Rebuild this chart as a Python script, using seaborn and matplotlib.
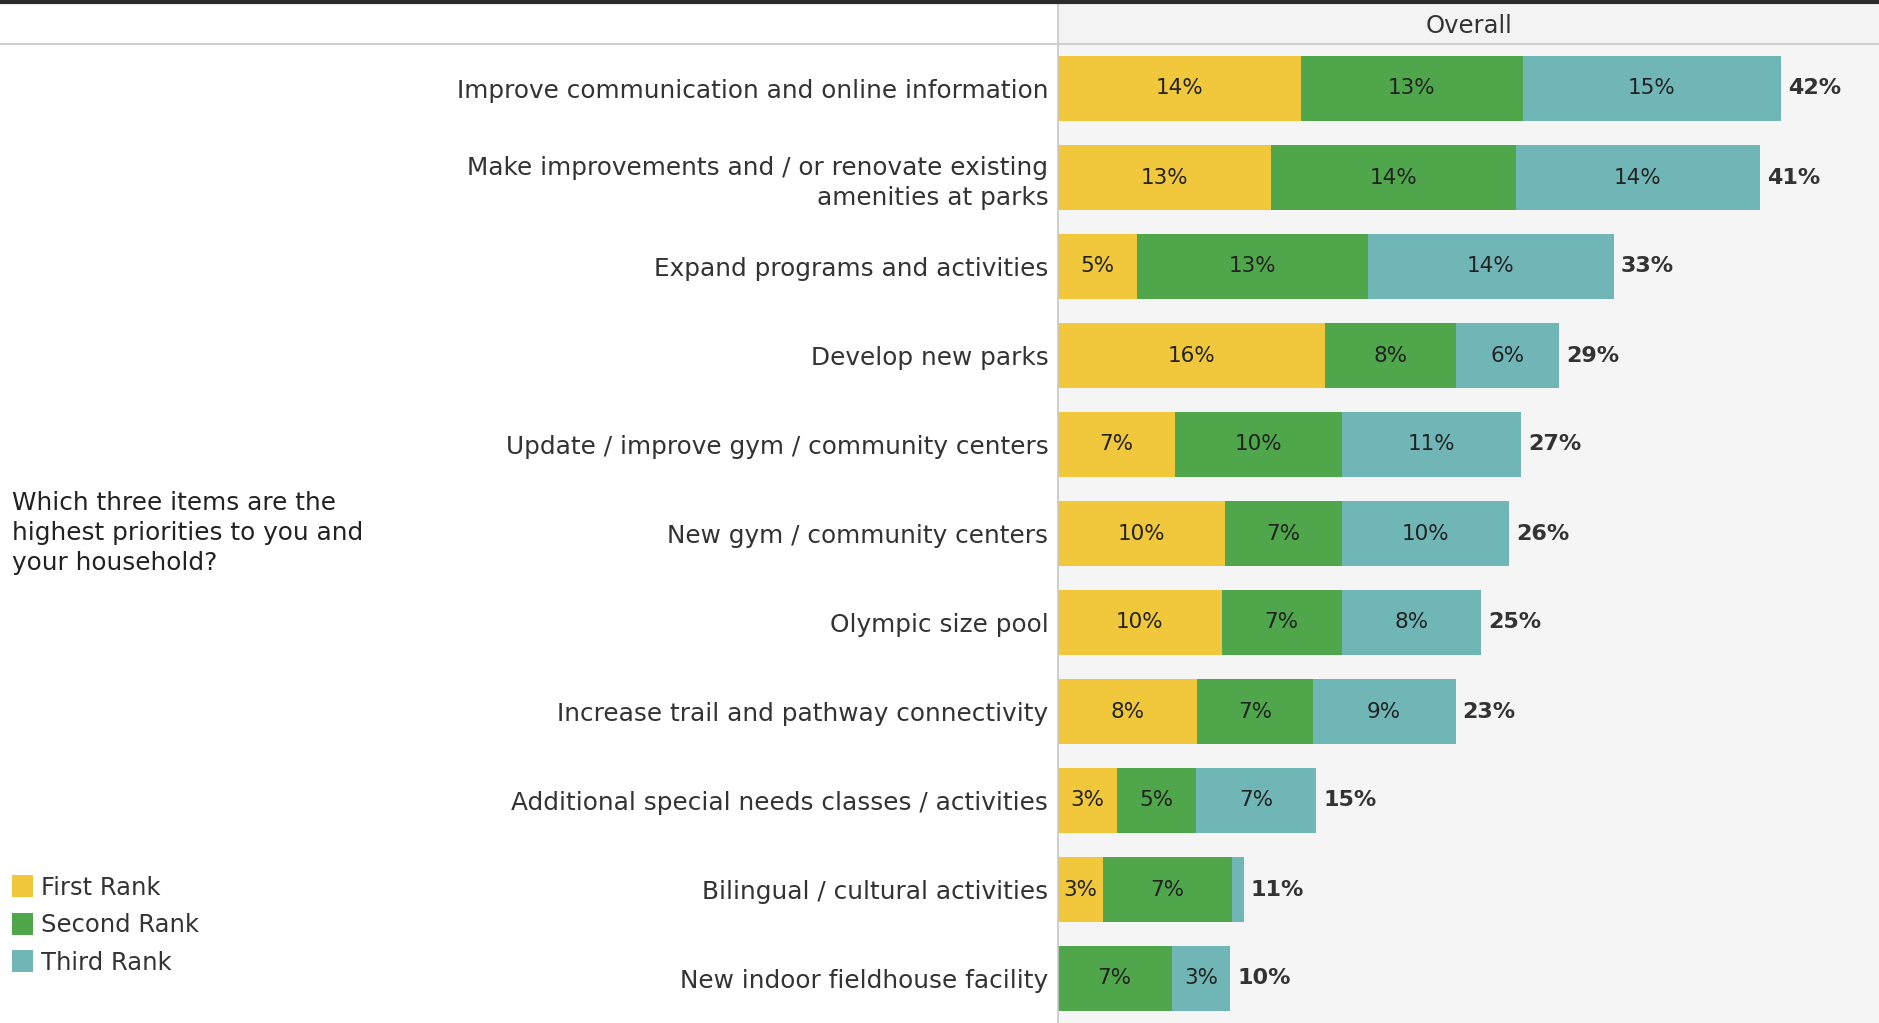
import matplotlib
matplotlib.use("Agg")
import matplotlib.pyplot as plt
from matplotlib.patches import Patch, Rectangle
from matplotlib.lines import Line2D
import numpy as np
import pandas as pd
import seaborn as sns

# ------------------------------------------------------------------
# Data
# ------------------------------------------------------------------
items = [
    "Improve communication and online information",
    "Make improvements and / or renovate existing\namenities at parks",
    "Expand programs and activities",
    "Develop new parks",
    "Update / improve gym / community centers",
    "New gym / community centers",
    "Olympic size pool",
    "Increase trail and pathway connectivity",
    "Additional special needs classes / activities",
    "Bilingual / cultural activities",
    "New indoor fieldhouse facility",
]
first_rank  = [14.1, 12.4, 4.6, 15.5, 6.8, 9.7, 9.5, 8.1, 3.4, 2.6, 0.0]
second_rank = [12.9, 14.2, 13.4, 7.6, 9.7, 6.8, 7.0, 6.7, 4.6, 7.5, 6.6]
third_rank  = [15.0, 14.2, 14.3, 6.0, 10.4, 9.7, 8.1, 8.3, 7.0, 0.7, 3.4]

first_labels  = ["14%", "13%", "5%", "16%", "7%", "10%", "10%", "8%", "3%", "3%", ""]
second_labels = ["13%", "14%", "13%", "8%", "10%", "7%", "7%", "7%", "5%", "7%", "7%"]
third_labels  = ["15%", "14%", "14%", "6%", "11%", "10%", "8%", "9%", "7%", "", "3%"]
total_labels  = ["42%", "41%", "33%", "29%", "27%", "26%", "25%", "23%", "15%", "11%", "10%"]

rank_names = ["First Rank", "Second Rank", "Third Rank"]
rank_colors = ["#F1C83C", "#4FA64B", "#71B6B6"]

question = "Which three items are the\nhighest priorities to you and\nyour household?"

# ------------------------------------------------------------------
# Build frame
# ------------------------------------------------------------------
df = pd.DataFrame({
    "item": items,
    "first": first_rank,
    "second": second_rank,
    "third": third_rank,
})
df["cum1"] = df["first"]
df["cum2"] = df["cum1"] + df["second"]
df["cum3"] = df["cum2"] + df["third"]

sns.set_theme(style="white")
plt.rcParams["font.family"] = ["DejaVu Sans"]

W, H = 1879, 1023
fig = plt.figure(figsize=(W / 100, H / 100), dpi=100)
fig.patch.set_facecolor("white")

ax_left = 1058 / W
ax_top = 1 - 44 / H
ax = fig.add_axes([ax_left, 0.0, 1 - ax_left, ax_top])
ax.set_facecolor("#F5F5F5")

# stacked bars: draw cumulative totals back to front
for col, color in zip(["cum3", "cum2", "cum1"], rank_colors[::-1]):
    sns.barplot(data=df, x=col, y="item", order=items, orient="h",
                color=color, width=0.72, saturation=1, edgecolor="none",
                linewidth=0, ax=ax)

# segment labels
for i, row in df.iterrows():
    starts = [0, row["cum1"], row["cum2"]]
    widths = [row["first"], row["second"], row["third"]]
    labs = [first_labels[i], second_labels[i], third_labels[i]]
    for s, w, lab in zip(starts, widths, labs):
        if lab:
            ax.text(s + w / 2, i, lab, ha="center", va="center",
                    fontsize=15.5, color="#222222")
    ax.annotate(total_labels[i], xy=(row["cum3"], i), xytext=(5, 0),
                textcoords="offset points", ha="left", va="center",
                fontsize=16, fontweight="bold", color="#333333")

ax.set_xlim(0, 47.7)
ax.set_ylim(len(items) - 0.5, -0.5)
ax.set_xlabel("")
ax.set_ylabel("")
ax.set_xticks([])
ax.tick_params(axis="y", length=0, pad=7, labelsize=17.8, labelcolor="#333333")
for lbl in ax.get_yticklabels():
    lbl.set_multialignment("right")
    lbl.set_linespacing(1.3)
for side in ["top", "right", "bottom"]:
    ax.spines[side].set_visible(False)
ax.spines["left"].set_color("#C8C8C8")
ax.spines["left"].set_linewidth(1.2)

# header strip
fig.add_artist(Rectangle((ax_left, ax_top), 1 - ax_left, 1 - ax_top,
                         transform=fig.transFigure, facecolor="#F3F3F3",
                         edgecolor="none", zorder=0))
fig.add_artist(Line2D([ax_left, ax_left], [ax_top, 1], transform=fig.transFigure,
                      color="#C8C8C8", lw=1.2))
fig.add_artist(Line2D([0, 1], [ax_top, ax_top], transform=fig.transFigure,
                      color="#CFCFCF", lw=1.5))
fig.add_artist(Line2D([0, 1], [1 - 1.5 / H, 1 - 1.5 / H], transform=fig.transFigure,
                      color="#2B2B2B", lw=3))
fig.text((ax_left + 1) / 2, 1 - 26 / H, "Overall", ha="center", va="center",
         fontsize=17.5, color="#333333")

# question text
fig.text(12 / W, 1 - 533 / H, question, ha="left", va="center",
         fontsize=17.8, color="#222222", linespacing=1.3)

# legend
handles = [Patch(facecolor=c, edgecolor="none") for c in rank_colors]
fig.legend(handles, rank_names, loc="center left",
           bbox_to_anchor=(0, 1 - 925 / H), frameon=False,
           fontsize=17.5, handlelength=0.85, handleheight=1.0,
           handletextpad=0.35, labelspacing=0.55, borderpad=0.2,
           borderaxespad=0.3, labelcolor="#333333")

fig.savefig("out.png", dpi=100, facecolor="white")
